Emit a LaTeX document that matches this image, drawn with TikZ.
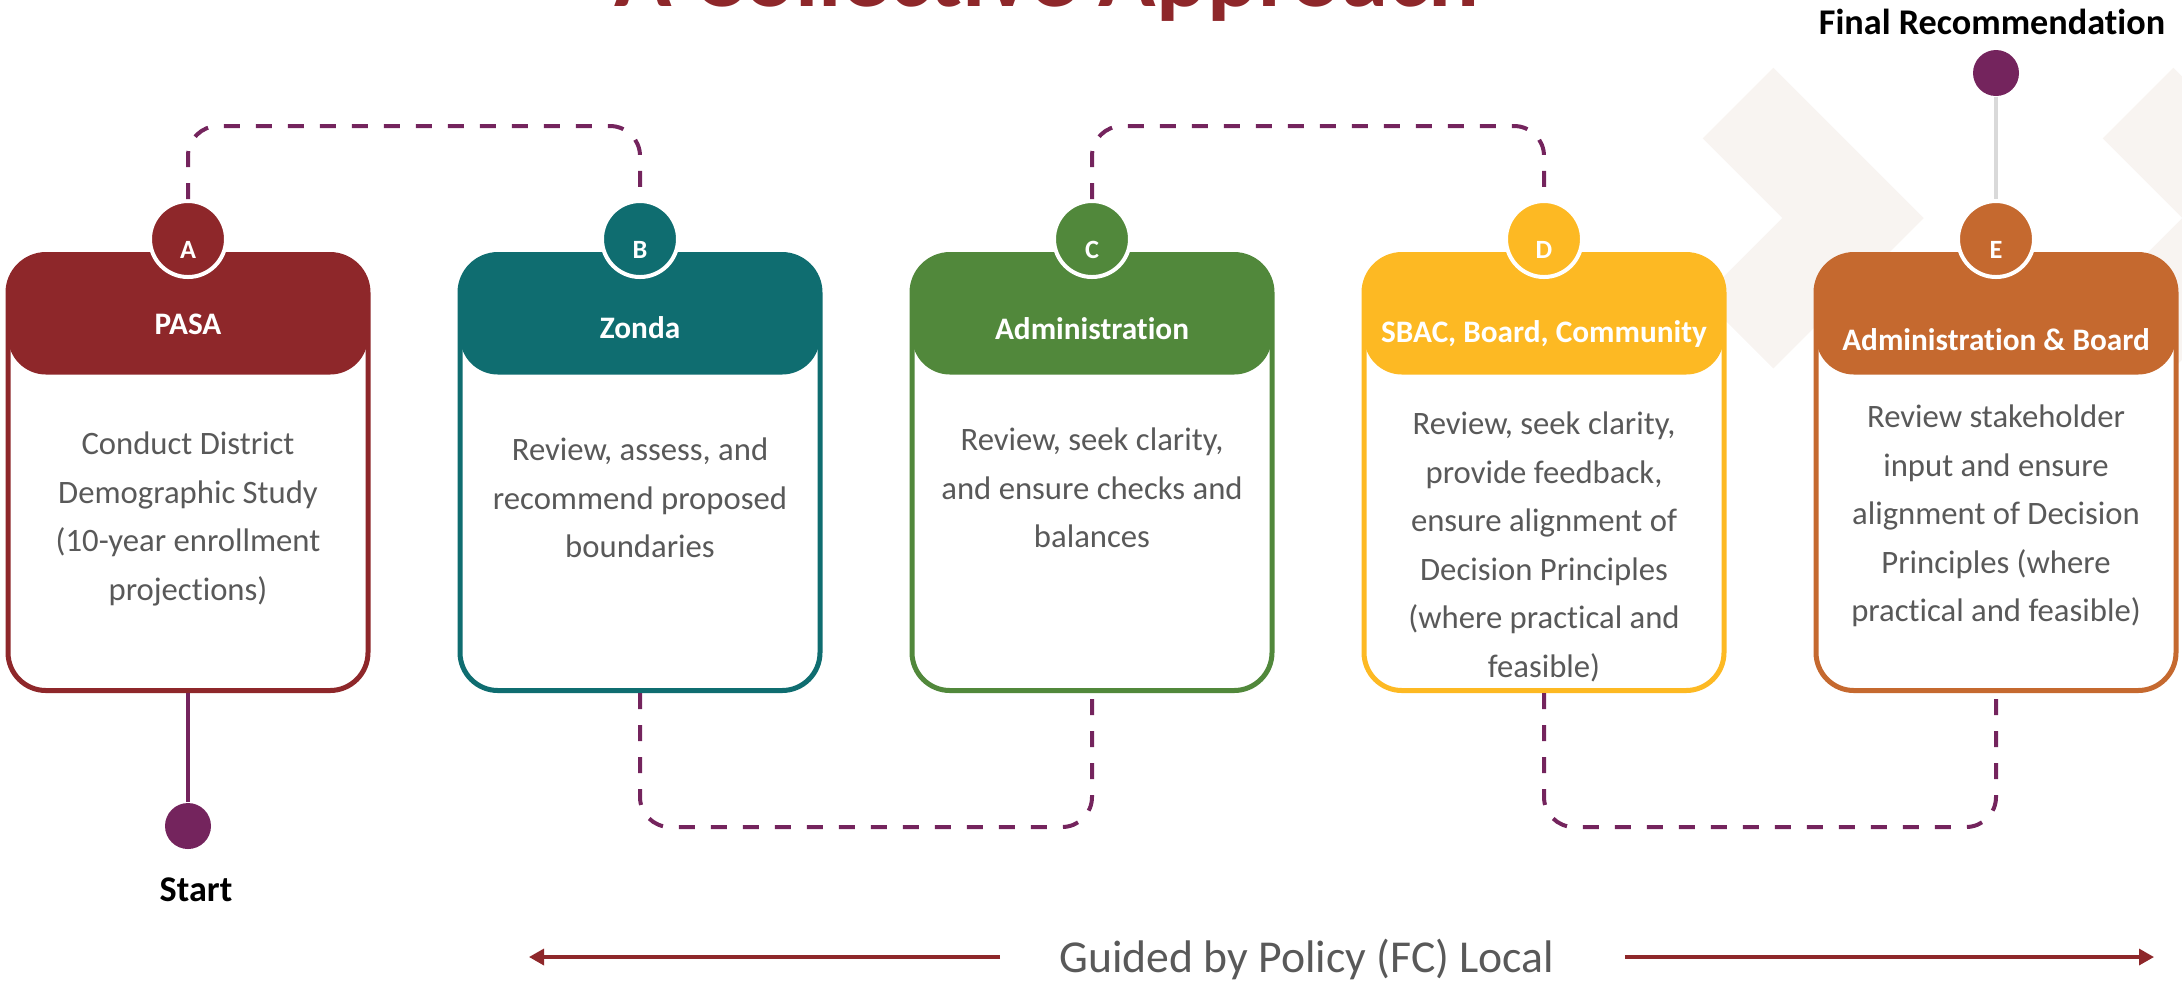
\documentclass[tikz,border=0pt]{standalone}
\usepackage{fontspec}
\setmainfont{Carlito}[Ligatures=NoCommon]
\usetikzlibrary{arrows.meta}

\definecolor{pasared}{HTML}{8E272A}
\definecolor{zondateal}{HTML}{0F6D70}
\definecolor{admingreen}{HTML}{51883B}
\definecolor{sbacamber}{HTML}{FDB923}
\definecolor{boardorange}{HTML}{C5692F}
\definecolor{pathplum}{HTML}{74245D}
\definecolor{bodygray}{HTML}{595959}
\definecolor{chevron}{HTML}{F8F4F1}
\definecolor{stemgray}{HTML}{D9D9D9}

\begin{document}
\begin{tikzpicture}[
            card/.style={rectangle, rounded corners=0.38cm, draw=#1, fill=white, line width=0.05cm, minimum width=3.6cm, minimum height=4.36cm,
                path picture={\fill[#1] (path picture bounding box.north west) rectangle ([yshift=-1.2cm]path picture bounding box.north east);}},
            badge/.style={circle, fill=#1, draw=white, line width=0.04cm, minimum size=0.76cm, inner sep=0pt, text=white, font=\bfseries\fontsize{7.5}{9}\selectfont, text height=0.39cm, text depth=0cm},
            head/.style={anchor=base, text=white, font=\bfseries\fontsize{8.9}{10}\selectfont},
            body/.style={text=bodygray, align=center, font=\fontsize{9.3}{13.8}\selectfont},
            enddot/.style={circle, fill=pathplum, minimum size=0.46cm, inner sep=0pt},
            tag/.style={font=\bfseries\fontsize{10.3}{12}\selectfont},
            flow/.style={pathplum, line width=0.04cm, dash pattern=on 0.16cm off 0.16cm, rounded corners=0.3cm},
            guide/.style={pasared, line width=0.033cm, -{Triangle[length=0.15cm,width=0.16cm]}}
            ]
            \clip (0,0) rectangle (21.82,-9.80);
            
            % Faint chevrons in the background
            \draw[chevron, line width=1cm, line join=miter] (17.38,-1.03) -- (18.53,-2.18) -- (17.38,-3.33);
            \draw[chevron, line width=1cm, line join=miter] (21.38,-1.03) -- (22.53,-2.18) -- (21.38,-3.33);
            
            % Title, cut by the top edge
            \node[anchor=base, text=pasared, font=\bfseries\fontsize{27}{30}\selectfont] (title) at (10.47,-0.06) {A Collective Approach};
            
            % Stage cards
            \node[card=pasared] (A) at (1.88,-4.725) {};
            \node[card=zondateal] (B) at (6.40,-4.725) {};
            \node[card=admingreen] (C) at (10.92,-4.725) {};
            \node[card=sbacamber] (D) at (15.44,-4.725) {};
            \node[card=boardorange] (E) at (19.96,-4.725) {};
            
            % Card headers
            \node[head] (hA) at (1.88,-3.34) {PASA};
            \node[head] (hB) at (6.40,-3.38) {Zonda};
            \node[head] (hC) at (10.92,-3.39) {Administration};
            \node[head] (hD) at (15.44,-3.42) {SBAC, Board, Community};
            \node[head] (hE) at (19.96,-3.50) {Administration \& Board};
            
            % Card texts
            \node[body] (tA) at (1.88,-5.19) {Conduct District\\Demographic Study\\(10-year enrollment\\projections)};
            \node[body] (tB) at (6.40,-4.98) {Review, assess, and\\recommend proposed\\boundaries};
            \node[body] (tC) at (10.92,-4.88) {Review, seek clarity,\\and ensure checks and\\balances};
            \node[body] (tD) at (15.44,-5.47) {Review, seek clarity,\\provide feedback,\\ensure alignment of\\Decision Principles\\(where practical and\\feasible)};
            \node[body] (tE) at (19.96,-5.16) {Review stakeholder\\input and ensure\\alignment of Decision\\Principles (where\\practical and feasible)};
            
            % Letter badges
            \node[badge=pasared] (cA) at (1.88,-2.39) {A};
            \node[badge=zondateal] (cB) at (6.40,-2.39) {B};
            \node[badge=admingreen] (cC) at (10.92,-2.39) {C};
            \node[badge=sbacamber] (cD) at (15.44,-2.39) {D};
            \node[badge=boardorange] (cE) at (19.96,-2.39) {E};
            
            % Dashed hand-offs
            \draw[flow] (cA.north) -- ++(0,0.73) -| (cB.north);
            \draw[flow] (B.south) -- ++(0,-1.34) -| (C.south);
            \draw[flow] (cC.north) -- ++(0,0.73) -| (cD.north);
            \draw[flow] (D.south) -- ++(0,-1.34) -| (E.south);
            
            % Start and end points
            \node[enddot] (start) at (1.88,-8.26) {};
            \node[tag] (startlbl) at (1.96,-8.90) {Start};
            \draw[pathplum, line width=0.04cm] (A.south) -- (start);
            \node[enddot] (final) at (19.96,-0.73) {};
            \node[tag] (finallbl) at (19.92,-0.22) {Final Recommendation};
            \draw[stemgray, line width=0.04cm] (final) -- (cE.north);
            
            % Policy band at the bottom
            \node[anchor=base, text=bodygray, font=\fontsize{13}{15}\selectfont] (policy) at (13.07,-9.72) {Guided by Policy (FC) Local};
            \coordinate (leftend) at (5.29,-9.57);
            \coordinate (rightend) at (21.54,-9.57);
            \draw[guide] (policy.west |- leftend) ++(-0.47,0) -- (leftend);
            \draw[guide] (policy.east |- rightend) ++(0.58,0) -- (rightend);
            
        \end{tikzpicture}
\end{document}
